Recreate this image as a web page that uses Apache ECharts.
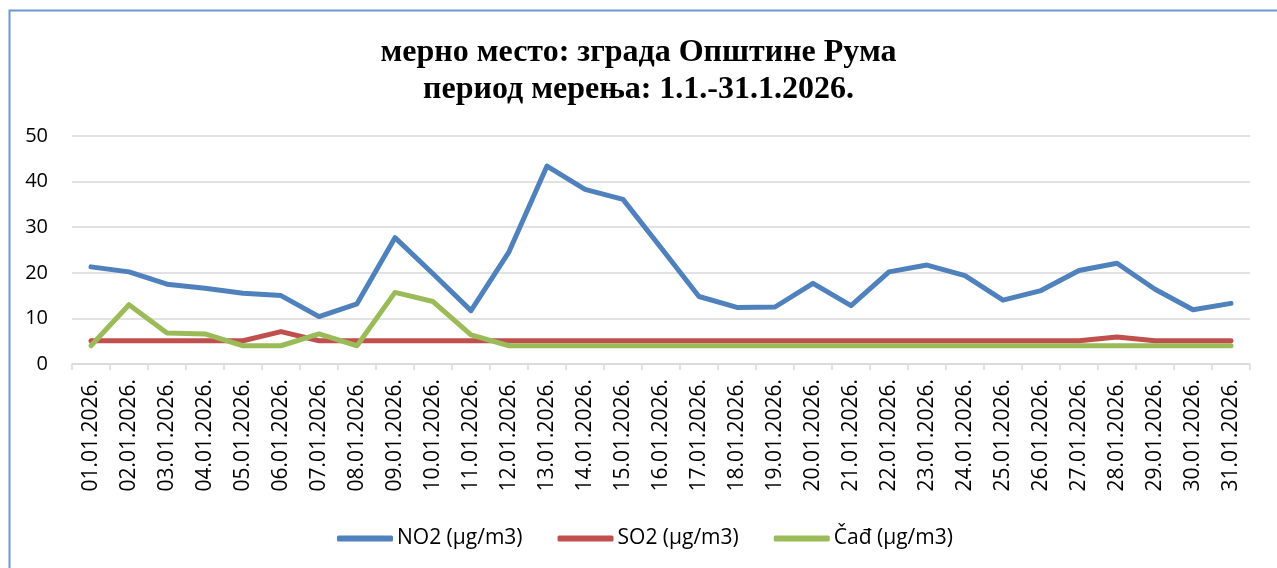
<!DOCTYPE html>
<html>
<head>
<meta charset="utf-8">
<script src="https://cdn.jsdelivr.net/npm/echarts@6/dist/echarts.min.js"></script>
<style>
  html, body {margin: 0; padding: 0; background: #fff;}
  #chart {width: 1277px; height: 568px;}
</style>
</head>
<body>
<div id="chart"></div>
<script>
// dani merenja
var days = ['01.01.2026.', '02.01.2026.', '03.01.2026.', '04.01.2026.', '05.01.2026.', '06.01.2026.',
    '07.01.2026.', '08.01.2026.', '09.01.2026.', '10.01.2026.', '11.01.2026.', '12.01.2026.',
    '13.01.2026.', '14.01.2026.', '15.01.2026.', '16.01.2026.', '17.01.2026.', '18.01.2026.',
    '19.01.2026.', '20.01.2026.', '21.01.2026.', '22.01.2026.', '23.01.2026.', '24.01.2026.',
    '25.01.2026.', '26.01.2026.', '27.01.2026.', '28.01.2026.', '29.01.2026.', '30.01.2026.',
    '31.01.2026.'];

var no2 = [21.3, 20.2, 17.5, 16.6, 15.5, 15.0, 10.4, 13.2, 27.7, 19.8, 11.7, 24.6, 43.4, 38.3, 36.1,
    25.5, 14.8, 12.4, 12.5, 17.7, 12.8, 20.2, 21.7, 19.4, 14.0, 16.1, 20.5, 22.1, 16.4, 11.9, 13.3];
var so2 = [5.1, 5.1, 5.1, 5.1, 5.1, 7.1, 5.1, 5.1, 5.1, 5.1, 5.1, 5.1, 5.1, 5.1, 5.1,
    5.1, 5.1, 5.1, 5.1, 5.1, 5.1, 5.1, 5.1, 5.1, 5.1, 5.1, 5.1, 5.9, 5.1, 5.1, 5.1];
var cad = [4.0, 13.0, 6.8, 6.6, 4.0, 4.0, 6.6, 4.0, 15.7, 13.7, 6.4, 4.0, 4.0, 4.0, 4.0,
    4.0, 4.0, 4.0, 4.0, 4.0, 4.0, 4.0, 4.0, 4.0, 4.0, 4.0, 4.0, 4.0, 4.0, 4.0, 4.0];

var seriesNames = ['NO2 (µg/m3)', 'SO2 (µg/m3)', 'Čađ (µg/m3)'];
var colors = ['#4f81bd', '#c0504d', '#9bbb59'];

var labelFont = '"Open Sans", "Noto Sans", sans-serif';

function makeLine(name, data, color) {
    return {
        name: name,
        type: 'line',
        data: data,
        symbol: 'none',
        showSymbol: false,
        animation: false,
        itemStyle: {color: color},
        lineStyle: {color: color, width: 5, cap: 'round', join: 'round'}
    };
}

var myChart = echarts.init(document.getElementById('chart'));

var option = {
    backgroundColor: '#fff',
    animation: false,
    color: colors,
    title: {
        text: 'мерно место: зграда Општине Рума\nпериод мерења: 1.1.-31.1.2026.',
        left: 'center',
        top: 29,
        textStyle: {
            fontFamily: '"Liberation Serif", "DejaVu Serif", serif',
            fontWeight: 'bold',
            fontSize: 32,
            lineHeight: 37,
            color: '#000'
        }
    },
    graphic: [{
        type: 'rect',
        left: 7,
        top: 8,
        shape: {width: 1300, height: 600},
        style: {fill: 'none', stroke: '#6d98cf', lineWidth: 2},
        silent: true
    }],
    legend: {
        data: seriesNames,
        left: 337,
        top: 528,
        padding: 0,
        icon: 'roundRect',
        itemWidth: 56,
        itemHeight: 6,
        itemGap: 35,
        textStyle: {fontFamily: labelFont, fontSize: 21, color: '#000', padding: [0, 0, 0, -1]}
    },
    grid: {left: 72, right: 27, top: 136, bottom: 204, containLabel: false},
    xAxis: {
        type: 'category',
        data: days,
        boundaryGap: true,
        axisLine: {lineStyle: {color: '#d9d9d9', width: 1.5}},
        axisTick: {show: true, length: 6, lineStyle: {color: '#d9d9d9', width: 1.5}},
        axisLabel: {
            rotate: 90,
            interval: 0,
            margin: 15,
            fontFamily: labelFont,
            fontSize: 21,
            color: '#000'
        }
    },
    yAxis: {
        type: 'value',
        min: 0,
        max: 50,
        interval: 10,
        axisLine: {show: false},
        axisTick: {show: false},
        splitLine: {lineStyle: {color: '#d9d9d9', width: 1.5}},
        axisLabel: {
            margin: 24,
            fontFamily: labelFont,
            fontSize: 20,
            color: '#000'
        }
    },
    series: [
        makeLine(seriesNames[0], no2, colors[0]),
        makeLine(seriesNames[1], so2, colors[1]),
        makeLine(seriesNames[2], cad, colors[2])
    ]
};

myChart.setOption(option, true);
</script>
</body>
</html>
